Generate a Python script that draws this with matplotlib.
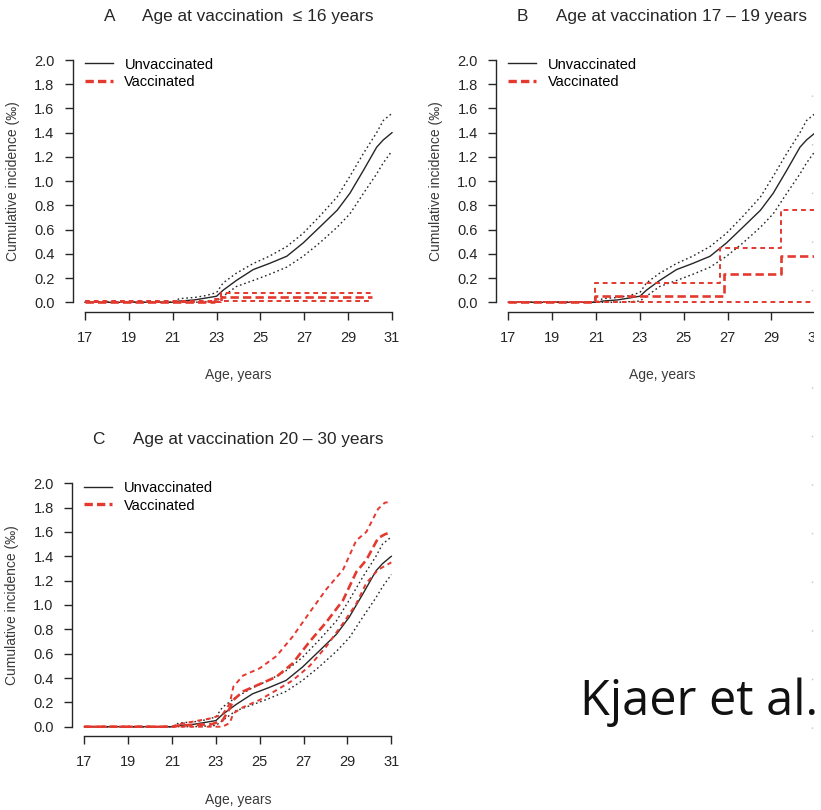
import matplotlib.pyplot as plt
from matplotlib.lines import Line2D
from matplotlib.patches import Rectangle

plt.rcParams['font.family'] = ['Liberation Sans', 'DejaVu Sans']
plt.rcParams['lines.scale_dashes'] = False

RED = '#e4392f'
INK = '#262626'

age_ticks = [17, 19, 21, 23, 25, 27, 29, 31]
inc_ticks = [0.0, 0.2, 0.4, 0.6, 0.8, 1.0, 1.2, 1.4, 1.6, 1.8, 2.0]

# unvaccinated cohort (identical curve in every panel)
unvac_age = [17, 21.0, 21.3, 22.0, 22.5, 23.0, 23.3, 23.9, 24.67, 25.4, 26.2,
             26.95, 27.7, 28.5, 29.08, 29.7, 30.3, 30.6, 31.0]
unvac_est = [0, 0, 0.01, 0.02, 0.035, 0.05, 0.10, 0.18, 0.27, 0.32, 0.38,
             0.49, 0.62, 0.76, 0.90, 1.09, 1.28, 1.34, 1.40]
unvac_hi = [0, 0, 0.03, 0.04, 0.055, 0.08, 0.16, 0.24, 0.32, 0.38, 0.46,
            0.57, 0.71, 0.87, 1.04, 1.23, 1.40, 1.50, 1.56]
unvac_lo = [0, 0, 0, 0, 0.005, 0.01, 0.05, 0.13, 0.18, 0.23, 0.29,
            0.38, 0.49, 0.62, 0.73, 0.90, 1.06, 1.15, 1.25]

# A: vaccinated at <=16 years (step function)
vacA_age = [17, 22.9, 23.2, 30.1]
vacA_est = [0.0, 0.01, 0.044, 0.044]
vacA_hi = [0.01, 0.03, 0.077, 0.077]
vacA_lo = [0.0, 0.0, 0.011, 0.011]

# B: vaccinated at 17-19 years (step function)
vacB_age = [17, 20.97, 26.65, 26.85, 29.45, 31.0]
vacB_est = [0, 0.055, 0.055, 0.23, 0.38, 0.38]
vacB_hi = [0, 0.157, 0.45, 0.45, 0.76, 0.76]
vacB_lo = [0, 0, 0, 0, 0, 0]

# C: vaccinated at 20-30 years
vacC_age = [17, 21.0, 21.3, 22.8, 23.3, 23.63, 23.8, 24.24, 25.0, 25.76, 26.5,
            27.28, 28.04, 28.8, 29.4, 29.86, 30.4, 30.7, 31.0]
vacC_est = [0, 0, 0.01, 0.02, 0.05, 0.15, 0.22, 0.29, 0.35, 0.41, 0.52,
            0.70, 0.86, 1.04, 1.27, 1.37, 1.55, 1.58, 1.60]
vacC_hi = [0, 0, 0.02, 0.07, 0.10, 0.19, 0.33, 0.42, 0.48, 0.58, 0.74,
           0.94, 1.13, 1.29, 1.53, 1.60, 1.79, 1.84, 1.85]
vacC_lo = [0, 0, 0, 0, 0, 0.03, 0.11, 0.16, 0.22, 0.30, 0.38,
           0.50, 0.66, 0.85, 1.01, 1.18, 1.29, 1.32, 1.35]

panel_letters = ['A', 'B', 'C']
panel_titles = ['Age at vaccination  \u2264 16 years',
                'Age at vaccination 17 \u2013 19 years',
                'Age at vaccination 20 \u2013 30 years']
vac_data = [(vacA_age, vacA_est, vacA_hi, vacA_lo, 'steps-post'),
            (vacB_age, vacB_est, vacB_hi, vacB_lo, 'steps-post'),
            (vacC_age, vacC_est, vacC_hi, vacC_lo, 'default')]

W, H = 821, 810
fig = plt.figure(figsize=(W / 100, H / 100), dpi=100)
rects = [
    [85 / W, 1 - 302.3 / H, 307 / W, 242.3 / H],
    [508.3 / W, 1 - 302.3 / H, 307 / W, 242.3 / H],
    [84.3 / W, 1 - 726.7 / H, 307 / W, 243.4 / H],
]

for k, rect in enumerate(rects):
    ax = fig.add_axes(rect)
    ax.set_xlim(17, 31)
    ax.set_ylim(0, 2.0)

    # unvaccinated: solid estimate + dotted 95% CI
    ax.plot(unvac_age, unvac_hi, color=INK, lw=1.0, ls=(0, (1.2, 2.0)), clip_on=False)
    ax.plot(unvac_age, unvac_lo, color=INK, lw=1.0, ls=(0, (1.2, 2.0)), clip_on=False)
    ax.plot(unvac_age, unvac_est, color=INK, lw=1.0, clip_on=False,
            label='Unvaccinated')

    a, e, hi, lo, ds = vac_data[k]
    ax.plot(a, hi, color=RED, lw=1.4, ls=(0, (3.5, 2.8)), drawstyle=ds, clip_on=False)
    ax.plot(a, lo, color=RED, lw=1.4, ls=(0, (3.5, 2.8)), drawstyle=ds, clip_on=False)
    ax.plot(a, e, color=RED, lw=1.9, ls=(0, (6, 3)), drawstyle=ds, clip_on=False)

    # legend proxy for vaccinated
    ax.plot([], [], color=RED, lw=2.4, ls=(0, (6, 3)), label='Vaccinated')

    ax.legend(loc='upper left', bbox_to_anchor=(0.0, 1.01), frameon=False,
              fontsize=10.5, handlelength=1.9, handletextpad=0.8,
              labelspacing=0.25, borderpad=0, borderaxespad=0)

    for s in ['top', 'right']:
        ax.spines[s].set_visible(False)
    ax.spines['left'].set_position(('outward', 9))
    ax.spines['bottom'].set_position(('outward', 7))
    ax.spines['left'].set_bounds(0, 2.0)
    ax.spines['bottom'].set_bounds(17, 31)
    for s in ['left', 'bottom']:
        ax.spines[s].set_linewidth(1.0)
        ax.spines[s].set_color(INK)

    ax.set_xticks(age_ticks)
    ax.set_yticks(inc_ticks)
    ax.set_yticklabels([f'{v:.1f}' for v in inc_ticks])
    ax.tick_params(axis='both', direction='out', length=5.5, width=1.0,
                   colors=INK, labelsize=10.5)
    ax.tick_params(axis='x', pad=8)
    ax.tick_params(axis='y', pad=7.5)

    ax.set_ylabel('Cumulative incidence (\u2030)', fontsize=10, color='#3a3a3a')
    ax.yaxis.label.set_va('center')
    ax.yaxis.set_label_coords(-0.235, 0.5)
    ax.set_xlabel('Age, years', fontsize=10, color='#3a3a3a')
    ax.xaxis.label.set_va('center')
    ax.xaxis.set_label_coords(0.5, -0.30)

    ax.set_title(f'{panel_letters[k]}      {panel_titles[k]}', fontsize=12.4,
                 color=INK, pad=28)

# the slide crops panel B just before its right edge
fig.add_artist(Rectangle((814 / W, 1 - 400 / H), 1 - 814 / W, 400 / H,
                         transform=fig.transFigure, facecolor='white',
                         edgecolor='none', zorder=10))

# faint dotted remnant of the slide at the right edge
fig.add_artist(Line2D([812 / W, 812 / W], [1 - 95 / H, 1 - 775 / H],
                      transform=fig.transFigure, color='#c4c4c4', lw=1.0,
                      ls=(0, (1, 34)), zorder=11))

fig.text(580 / W, 1 - 715 / H, 'Kjaer et al.', fontsize=35,
         family=['Open Sans', 'DejaVu Sans'], color='#111111',
         va='baseline', ha='left', zorder=12)

fig.savefig('out.png', dpi=100)
